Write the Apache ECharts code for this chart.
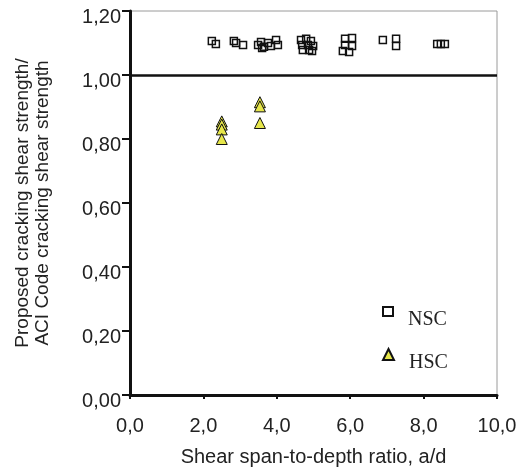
<!DOCTYPE html>
<html>
<head>
<meta charset="utf-8">
<script src="https://cdn.jsdelivr.net/npm/echarts@6/dist/echarts.min.js"></script>
<style>
html,body{margin:0;padding:0;background:#fff;}
#chart{width:527px;height:474px;}
</style>
</head>
<body>
<div id="chart"></div>
<script>
// NSC (normal-strength concrete) points
const nscX = [2.23, 2.34, 2.83, 2.89, 3.08, 3.49, 3.57, 3.65, 3.76, 3.84, 3.98, 4.03, 3.60,
              4.66, 4.80, 4.93, 4.69, 4.85, 4.99, 4.71, 4.88, 4.96,
              5.86, 6.05, 5.86, 6.05, 5.80, 5.97,
              6.89, 7.25, 7.25, 8.37, 8.47, 8.58];
const nscY = [1.106, 1.097, 1.106, 1.100, 1.094, 1.094, 1.103, 1.088, 1.100, 1.091, 1.109, 1.094, 1.084,
              1.109, 1.113, 1.106, 1.094, 1.094, 1.091, 1.078, 1.078, 1.075,
              1.113, 1.116, 1.094, 1.091, 1.075, 1.072,
              1.109, 1.113, 1.091, 1.097, 1.097, 1.097];
// HSC (high-strength concrete) points
const hscX = [2.5, 2.5, 2.5, 2.5, 3.54, 3.54, 3.54];
const hscY = [0.855, 0.845, 0.83, 0.80, 0.915, 0.902, 0.85];
const seriesNames = ['NSC', 'HSC'];
const xTickLabels = ['0,0', '2,0', '4,0', '6,0', '8,0', '10,0'];
const yTickLabels = ['0,00', '0,20', '0,40', '0,60', '0,80', '1,00', '1,20'];
const referenceLine = 1.0;
const xTitle = 'Shear span-to-depth ratio, a/d';
const yTitle = 'Proposed cracking shear strength/\nACI Code cracking shear strength';

const sans = "'Liberation Sans', Arial, sans-serif";
const serif = "'Liberation Serif', 'Times New Roman', serif";

const chart = echarts.init(document.getElementById('chart'), null, {renderer: 'canvas'});
chart.setOption({
  animation: false,
  backgroundColor: '#fff',
  grid: {left: 130, right: 30, top: 11, bottom: 79, show: true, borderColor: '#9a9a9a', borderWidth: 1},
  xAxis: {
    type: 'value', min: 0, max: 10, interval: 2,
    name: xTitle, nameLocation: 'middle', nameGap: 52,
    nameTextStyle: {fontFamily: sans, fontSize: 20, color: '#222'},
    axisLine: {show: true, lineStyle: {color: '#111', width: 3}},
    axisTick: {show: true, inside: false, length: 4, lineStyle: {color: '#111', width: 2}},
    axisLabel: {
      fontFamily: sans, fontSize: 20, color: '#222', margin: 21,
      formatter: v => xTickLabels[Math.round(v / 2)]
    },
    splitLine: {show: false}
  },
  yAxis: {
    type: 'value', min: 0, max: 1.2, interval: 0.2,
    name: yTitle, nameLocation: 'middle', nameRotate: 90, nameGap: 77,
    nameTextStyle: {fontFamily: sans, fontSize: 19, color: '#222', lineHeight: 20},
    axisLine: {show: true, lineStyle: {color: '#111', width: 3}},
    axisTick: {show: true, inside: false, length: 8, lineStyle: {color: '#111', width: 2}},
    axisLabel: {
      fontFamily: sans, fontSize: 20, color: '#222', margin: 9,
      verticalAlign: 'top', lineHeight: 12,
      formatter: v => yTickLabels[Math.round(v / 0.2)]
    },
    splitLine: {show: false}
  },
  legend: [
    {data: [seriesNames[0]], left: 382, top: 306, padding: 0, itemWidth: 10, itemHeight: 9,
     formatter: n => '{t|' + n + '}',
     textStyle: {fontFamily: serif, fontSize: 20, color: '#222',
       rich: {t: {fontFamily: serif, fontSize: 20, color: '#222', padding: [17, 0, 0, 10]}}}},
    {data: [seriesNames[1]], left: 382, top: 348, padding: 0, itemWidth: 11, itemHeight: 11,
     formatter: n => '{t|' + n + '}',
     textStyle: {fontFamily: serif, fontSize: 20, color: '#222',
       rich: {t: {fontFamily: serif, fontSize: 20, color: '#222', padding: [17, 0, 0, 10]}}}}
  ],
  series: [
    {
      name: seriesNames[0], type: 'scatter', symbol: 'rect', symbolSize: 7,
      itemStyle: {color: 'rgba(255,255,255,0)', borderColor: '#111', borderWidth: 1.5, opacity: 1},
      data: nscX.map((x, i) => [x, nscY[i]]),
      markLine: {
        silent: true, symbol: 'none', label: {show: false},
        lineStyle: {color: '#111', width: 2.5, type: 'solid'},
        data: [{yAxis: referenceLine}]
      },
      z: 3
    },
    {
      name: seriesNames[1], type: 'scatter', symbol: 'triangle', symbolSize: 11,
      itemStyle: {color: '#e6e64a', borderColor: '#111', borderWidth: 1, opacity: 1},
      data: hscX.map((x, i) => [x, hscY[i]]),
      z: 4
    }
  ]
});
</script>
</body>
</html>
